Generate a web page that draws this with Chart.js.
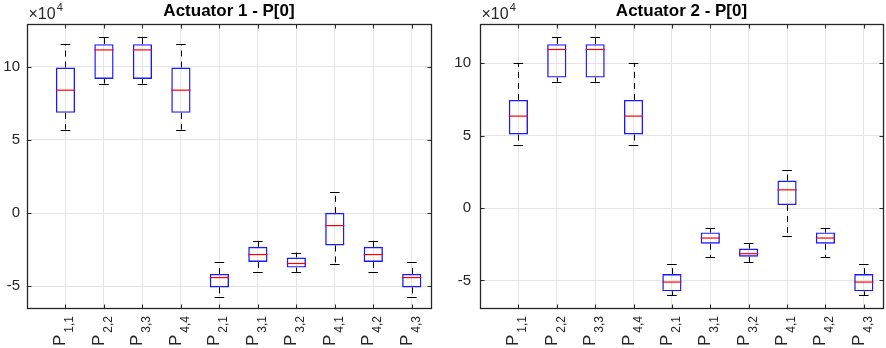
<!DOCTYPE html>
<html><head><meta charset="utf-8">
<script src="https://cdn.jsdelivr.net/npm/chart.js@4"></script>
<style>
html,body{margin:0;padding:0;background:#fff;}
#wrap{position:relative;width:886px;height:348px;overflow:hidden;}
.c{position:absolute;top:0;width:443px;height:348px;}
</style></head><body>
<div id="wrap">
<div class="c" style="left:0"><canvas id="c1" width="443" height="348"></canvas></div>
<div class="c" style="left:443px"><canvas id="c2" width="443" height="348"></canvas></div>
</div>
<script>
const categories = ['1,1','2,2','3,3','4,4','2,1','3,1','3,2','4,1','4,2','4,3'];
const yTicks = [-5, 0, 5, 10];
const titles = ['Actuator 1 - P[0]', 'Actuator 2 - P[0]'];

// Actuator 1 (values in units of 10^4)
const a1Low    = [5.71, 8.85, 8.85, 5.71, -5.70, -3.99, -4.01, -3.48, -3.99, -5.70];
const a1Q1     = [6.85, 9.17, 9.17, 6.85, -5.08, -3.33, -3.72, -2.21, -3.33, -5.08];
const a1Median = [8.40, 11.15, 11.15, 8.40, -4.40, -2.83, -3.44, -0.85, -2.83, -4.40];
const a1Q3     = [9.95, 11.54, 11.54, 9.95, -4.15, -2.30, -3.03, 0.02, -2.30, -4.15];
const a1High   = [11.54, 12.00, 12.00, 11.54, -3.35, -1.89, -2.69, 1.41, -1.89, -3.35];

// Actuator 2 (values in units of 10^4)
const a2Low    = [4.35, 8.72, 8.72, 4.35, -6.03, -3.38, -3.75, -1.93, -3.38, -6.03];
const a2Q1     = [5.08, 9.01, 9.01, 5.08, -5.75, -2.46, -3.36, 0.21, -2.46, -5.75];
const a2Median = [6.35, 10.95, 10.95, 6.35, -5.11, -2.07, -3.15, 1.26, -2.07, -5.11];
const a2Q3     = [7.47, 11.32, 11.32, 7.47, -4.56, -1.68, -2.79, 1.90, -1.68, -4.56];
const a2High   = [10.00, 11.84, 11.84, 10.00, -3.87, -1.38, -2.44, 2.64, -1.38, -3.87];

const FONT = "'Liberation Sans', Arial, Helvetica, sans-serif";
const AXC = '#262626';

const boxPlugin = {
  id: 'boxExtras',
  afterDatasetsDraw(chart) {
    const st = chart.options.plugins.boxExtras;
    const ctx = chart.ctx, xs = chart.scales.x, ys = chart.scales.y;
    const ca = chart.chartArea;
    const unit = xs.getPixelForValue(1) - xs.getPixelForValue(0);
    ctx.save();
    for (let i = 0; i < categories.length; i++) {
      const xc = xs.getPixelForValue(i + 1);
      const hw = unit * 0.25;
      const cw = unit * 0.125;
      const xw = Math.round(xc) + 0.5;
      ctx.strokeStyle = '#000';
      ctx.lineWidth = 1;
      ctx.setLineDash([6, 5]);
      ctx.beginPath();
      ctx.moveTo(xw, ys.getPixelForValue(st.q3[i]));
      ctx.lineTo(xw, ys.getPixelForValue(st.high[i]));
      ctx.moveTo(xw, ys.getPixelForValue(st.q1[i]));
      ctx.lineTo(xw, ys.getPixelForValue(st.low[i]));
      ctx.stroke();
      ctx.setLineDash([]);
      ctx.beginPath();
      const yh = Math.round(ys.getPixelForValue(st.high[i])) + 0.5;
      const yl = Math.round(ys.getPixelForValue(st.low[i])) + 0.5;
      ctx.moveTo(xc - cw, yh); ctx.lineTo(xc + cw, yh);
      ctx.moveTo(xc - cw, yl); ctx.lineTo(xc + cw, yl);
      ctx.stroke();
      ctx.strokeStyle = '#ff0000';
      ctx.lineWidth = 1.2;
      ctx.beginPath();
      const ym = ys.getPixelForValue(st.median[i]);
      ctx.moveTo(xc - hw, ym); ctx.lineTo(xc + hw, ym);
      ctx.stroke();
    }
    ctx.strokeStyle = AXC;
    ctx.lineWidth = 1.3;
    const L = Math.round(ca.left) + 0.5, R = Math.round(ca.right) + 0.5;
    const T = Math.round(ca.top) + 0.5, B = Math.round(ca.bottom) + 0.5;
    ctx.strokeRect(L, T, R - L, B - T);
    ctx.lineWidth = 1;
    ctx.beginPath();
    const tl = 4;
    for (let i = 0; i < categories.length; i++) {
      const x = Math.round(xs.getPixelForValue(i + 1)) + 0.5;
      ctx.moveTo(x, B); ctx.lineTo(x, B - tl);
      ctx.moveTo(x, T); ctx.lineTo(x, T + tl);
    }
    yTicks.forEach(v => {
      const y = Math.round(ys.getPixelForValue(v)) + 0.5;
      ctx.moveTo(L, y); ctx.lineTo(L + tl, y);
      ctx.moveTo(R, y); ctx.lineTo(R - tl, y);
    });
    ctx.stroke();
    ctx.fillStyle = AXC;
    ctx.textBaseline = 'alphabetic';
    ctx.textAlign = 'left';
    ctx.font = '16px ' + FONT;
    const ex = L + 1;
    ctx.fillText('\u00d710', ex, 19);
    const w10 = ctx.measureText('\u00d710').width;
    ctx.font = '11px ' + FONT;
    ctx.fillText('4', ex + w10 + 1, 11);
    categories.forEach((c, i) => {
      const x = xs.getPixelForValue(i + 1);
      ctx.save();
      ctx.translate(x, 346);
      ctx.rotate(-Math.PI / 2);
      ctx.font = '17px ' + FONT;
      ctx.fillStyle = AXC;
      ctx.fillText('P', 0, 0);
      const wp = ctx.measureText('P').width;
      ctx.font = '12px ' + FONT;
      ctx.fillText(c, wp + 2, 8);
      ctx.restore();
    });
    ctx.restore();
  }
};

function makeChart(id, idx, low, q1, median, q3, high, yMin, yMax, yAxisW, padRight, tickPad) {
  const data = categories.map((c, i) => ({ x: i + 1, y: [q1[i], q3[i]] }));
  return new Chart(document.getElementById(id), {
    type: 'bar',
    data: { datasets: [{
      data: data,
      backgroundColor: 'rgba(255,255,255,0)',
      borderColor: '#1a1aff',
      borderWidth: 1.4,
      borderSkipped: false,
      categoryPercentage: 1,
      barPercentage: 0.5
    }]},
    options: {
      responsive: false,
      animation: false,
      devicePixelRatio: 1,
      layout: { padding: { left: 0, right: padRight, top: 0, bottom: 0 } },
      plugins: {
        legend: { display: false },
        tooltip: { enabled: false },
        title: {
          display: true, text: titles[idx], fullSize: false,
          font: { family: FONT, size: 17, weight: 'bold', lineHeight: 1.1 }, color: '#000',
          padding: { top: 2, bottom: 3.3 }
        },
        boxExtras: { low, q1, median, q3, high }
      },
      scales: {
        x: {
          type: 'linear', min: 0, max: 10.5, offset: false,
          afterBuildTicks: s => { s.ticks = categories.map((c, i) => ({ value: i + 1 })); },
          ticks: { display: false },
          grid: { color: '#e4e4e4', drawTicks: false, offset: false },
          border: { display: false },
          afterFit: s => { s.height = 40; }
        },
        y: {
          min: yMin, max: yMax,
          afterBuildTicks: s => { s.ticks = yTicks.map(v => ({ value: v })); },
          ticks: { font: { family: FONT, size: 15 }, color: AXC, padding: tickPad },
          grid: { color: '#e4e4e4', drawTicks: false },
          border: { display: false },
          afterFit: s => { s.width = yAxisW; }
        }
      }
    },
    plugins: [boxPlugin]
  });
}

makeChart('c1', 0, a1Low, a1Q1, a1Median, a1Q3, a1High, -6.48, 12.92, 27, 12, 7);
makeChart('c2', 1, a2Low, a2Q1, a2Median, a2Q3, a2High, -6.90, 12.71, 37, 3, 9);
</script>
</body></html>
